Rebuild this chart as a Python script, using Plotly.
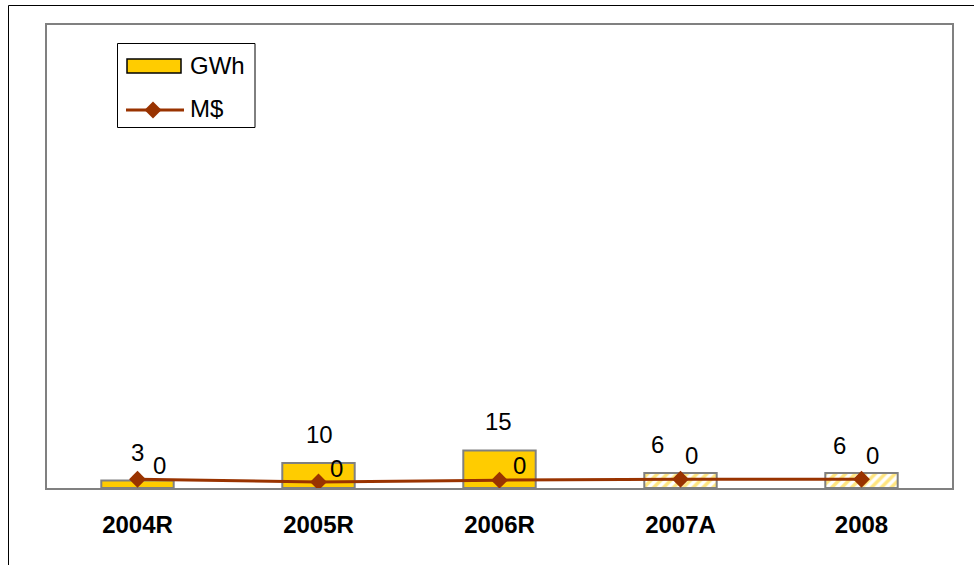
import plotly.graph_objects as go

# Data
years = ["2004R", "2005R", "2006R", "2007A", "2008"]
gwh = [3, 10, 15, 6, 6]
musd = [0.19, 0.13, 0.17, 0.19, 0.19]
is_forecast = [False, False, False, True, True]

# Label nudges (pixels) so values don't collide
gwh_label_dx = [0, 1, -1, -23, -22]
gwh_label_dy = [28, 28, 29, 28, 27]
musd_label_dx = [22, 18, 20, 11, 11]
musd_label_dy = [14, 13, 15, 24, 24]

W, H = 974, 565
L, R, T, B = 47, 22, 25, 77
PW, PH = W - L - R, H - T - B

YELLOW = "#FFCC00"
BROWN = "#993300"
GRAY = "#808080"
FONT = "Liberation Sans, Arial, sans-serif"


def px(x):
    return (x - L) / PW


def py(y):
    return (H - B - y) / PH


actual_vals = [v if not f else None for v, f in zip(gwh, is_forecast)]
forecast_vals = [v if f else None for v, f in zip(gwh, is_forecast)]

fig = go.Figure()

# Reported years: solid fill
fig.add_trace(go.Bar(
    x=years, y=actual_vals, name="GWh", width=0.4,
    marker=dict(color=YELLOW, line=dict(color=GRAY, width=2)),
    showlegend=False,
))

# Forecast years: hatched fill
fig.add_trace(go.Bar(
    x=years, y=forecast_vals, name="GWh (forecast)", width=0.4,
    marker=dict(
        color="white",
        line=dict(color=GRAY, width=2),
        pattern=dict(shape="/", fillmode="overlay", fgcolor=YELLOW,
                     bgcolor="white", size=7, solidity=0.5),
    ),
    showlegend=False,
))

fig.add_trace(go.Scatter(
    x=years, y=musd, name="M$", yaxis="y2", mode="lines+markers",
    line=dict(color=BROWN, width=3),
    marker=dict(symbol="diamond", size=13, color=BROWN),
    showlegend=False,
))

annotations = []
for i, v in enumerate(gwh):
    annotations.append(dict(
        x=i, y=v, xref="x", yref="y", text=f"{v:.0f}", showarrow=False,
        xshift=gwh_label_dx[i], yshift=gwh_label_dy[i], yanchor="middle",
        font=dict(family=FONT, size=24, color="black"),
    ))
for i, v in enumerate(musd):
    annotations.append(dict(
        x=i, y=v, xref="x", yref="y2", text=f"{v:.0f}", showarrow=False,
        xshift=musd_label_dx[i], yshift=musd_label_dy[i], yanchor="middle",
        font=dict(family=FONT, size=24, color="black"),
    ))

# Legend text
annotations += [
    dict(x=px(188), y=py(66), xref="paper", yref="paper", text="GWh",
         showarrow=False, xanchor="left", yanchor="middle",
         font=dict(family=FONT, size=24, color="black")),
    dict(x=px(188), y=py(109), xref="paper", yref="paper", text="M$",
         showarrow=False, xanchor="left", yanchor="middle",
         font=dict(family=FONT, size=24, color="black")),
]

shapes = [
    # outer frame
    dict(type="rect", xref="paper", yref="paper", x0=px(8.5), y0=py(5.5),
         x1=px(1100), y1=py(700), line=dict(color="black", width=1),
         fillcolor="rgba(0,0,0,0)", layer="below"),
    # legend box
    dict(type="rect", xref="paper", yref="paper", x0=px(117.5), y0=py(43.5),
         x1=px(255), y1=py(127.5), line=dict(color="black", width=1),
         fillcolor="white"),
    # legend bar swatch
    dict(type="rect", xref="paper", yref="paper", x0=px(127), y0=py(59),
         x1=px(181), y1=py(73), line=dict(color="black", width=1.5),
         fillcolor=YELLOW),
    # legend line swatch
    dict(type="line", xref="paper", yref="paper", x0=px(126), y0=py(110),
         x1=px(184), y1=py(110), line=dict(color=BROWN, width=3)),
    # legend diamond swatch
    dict(type="path", xref="paper", yref="paper",
         path=f"M {px(144.5)} {py(110)} L {px(153)} {py(101.5)} "
              f"L {px(161.5)} {py(110)} L {px(153)} {py(118.5)} Z",
         fillcolor=BROWN, line=dict(color=BROWN, width=0)),
]

fig.update_layout(
    width=W, height=H,
    margin=dict(l=L, r=R, t=T, b=B),
    paper_bgcolor="white", plot_bgcolor="white",
    barmode="overlay",
    xaxis=dict(
        type="category", range=[-0.5, 4.5], showline=True, mirror=True,
        linecolor=GRAY, linewidth=2, ticks="", showgrid=False,
        tickfont=dict(family=FONT, size=24, color="black", weight="bold"),
        ticklabelstandoff=14,
    ),
    yaxis=dict(
        range=[0, 185], showline=True, mirror=True, linecolor=GRAY,
        linewidth=2, showticklabels=False, ticks="", showgrid=False,
        zeroline=False,
    ),
    yaxis2=dict(
        range=[0, 10], overlaying="y", side="right", showticklabels=False,
        showgrid=False, zeroline=False, showline=False, ticks="",
    ),
    annotations=annotations,
    shapes=shapes,
    showlegend=False,
)

fig.write_html("out.html")
